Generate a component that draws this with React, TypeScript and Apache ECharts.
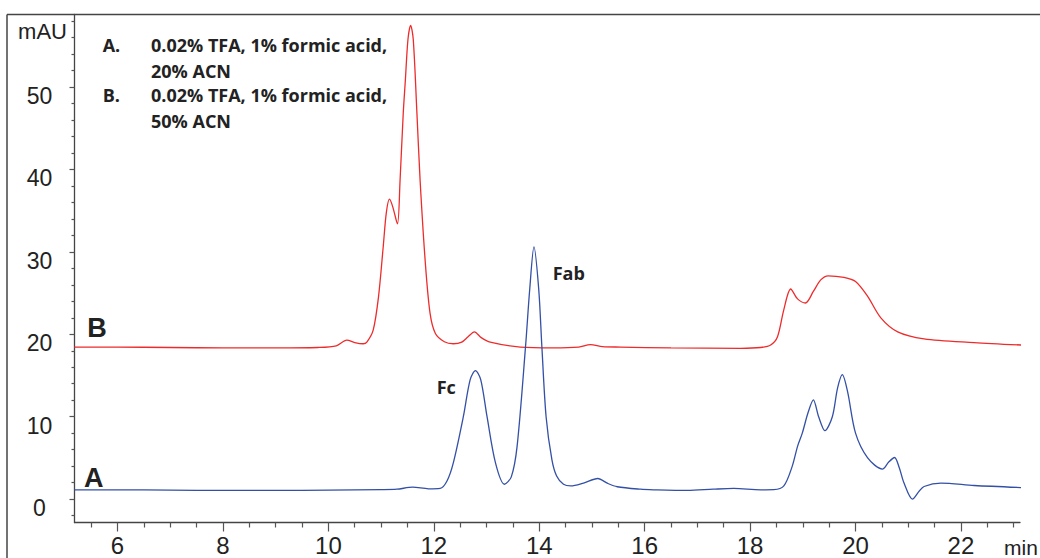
import React, { useEffect, useRef } from "react";
import * as echarts from "echarts";

// Trace A (blue): 0.02% TFA, 1% formic acid, 20% ACN
const timesA = [5.18, 6.0, 7.0, 8.0, 9.0, 10.0, 11.0, 11.3, 11.6, 11.9, 12.12, 12.25, 12.37, 12.56, 12.69, 12.79, 12.89, 13.01, 13.17, 13.34, 13.47, 13.58, 13.74, 13.82, 13.9, 13.99, 14.05, 14.13, 14.24, 14.33, 14.46, 14.6, 14.84, 15.11, 15.3, 15.48, 15.92, 16.17, 16.81, 17.3, 17.69, 18.2, 18.45, 18.64, 18.8, 18.9, 18.99, 19.1, 19.2, 19.3, 19.42, 19.56, 19.66, 19.75, 19.85, 20.0, 20.23, 20.51, 20.63, 20.74, 20.83, 20.92, 21.08, 21.2, 21.3, 21.62, 22.25, 23.14];
const valuesA = [1.13, 1.13, 1.1, 1.05, 1.05, 1.1, 1.15, 1.2, 1.45, 1.25, 1.3, 2.2, 4.4, 10.0, 14.5, 15.6, 14.5, 10.0, 4.4, 1.8, 2.7, 6.4, 18.5, 25.5, 30.6, 25.5, 18.5, 10.0, 4.8, 2.8, 1.8, 1.6, 1.95, 2.5, 1.9, 1.5, 1.2, 1.13, 1.05, 1.2, 1.29, 1.13, 1.15, 1.6, 4.0, 6.4, 8.0, 10.5, 12.05, 10.0, 8.3, 10.0, 13.5, 15.1, 13.0, 8.0, 5.0, 3.64, 4.5, 5.05, 3.8, 1.94, 0.0, 0.9, 1.53, 1.94, 1.65, 1.4];

// Trace B (red): 0.02% TFA, 1% formic acid, 50% ACN
const timesB = [5.18, 6.0, 7.0, 8.0, 9.0, 9.8, 10.15, 10.35, 10.5, 10.66, 10.73, 10.85, 10.95, 11.04, 11.1, 11.16, 11.22, 11.31, 11.36, 11.42, 11.46, 11.51, 11.56, 11.61, 11.68, 11.74, 11.84, 11.93, 12.03, 12.2, 12.37, 12.53, 12.65, 12.77, 12.9, 13.07, 13.64, 14.27, 14.75, 14.97, 15.2, 15.54, 16.5, 17.82, 18.2, 18.39, 18.52, 18.64, 18.77, 18.9, 19.05, 19.2, 19.34, 19.48, 19.78, 20.0, 20.23, 20.48, 20.8, 21.3, 22.25, 23.14];
const valuesB = [18.45, 18.45, 18.4, 18.35, 18.35, 18.4, 18.6, 19.3, 19.0, 18.85, 19.05, 20.5, 24.5, 30.6, 34.8, 36.4, 35.5, 33.4, 38.7, 46.8, 50.8, 55.8, 57.5, 55.8, 46.8, 38.7, 28.6, 22.5, 20.1, 19.1, 18.85, 19.05, 19.7, 20.3, 19.6, 19.05, 18.45, 18.35, 18.45, 18.75, 18.5, 18.45, 18.35, 18.3, 18.4, 18.7, 19.7, 23.0, 25.5, 24.3, 23.8, 25.2, 26.6, 27.1, 26.9, 26.4, 24.6, 22.0, 20.3, 19.45, 19.0, 18.7];

// Axis ticks
const xMajorTicks = [6, 8, 10, 12, 14, 16, 18, 20, 22];
const xMinorTicks = [5.5, 6.5, 7, 7.5, 8.5, 9, 9.5, 10.5, 11, 11.5, 12.5, 13, 13.5, 14.5, 15, 15.5, 16.5, 17, 17.5, 18.5, 19, 19.5, 20.5, 21, 21.5, 22.5, 23];
const yMajorTicks = [0, 10, 20, 30, 40, 50];
const yMinorTicks = [-2, 2, 4, 6, 8, 12, 14, 16, 18, 22, 24, 26, 28, 32, 34, 36, 38, 42, 44, 46, 48, 52, 54, 56, 58];

const X_MIN = 5.184;
const X_MAX = 23.12;
const Y_MIN = -2.84;
const Y_MAX = 58.81;

const AXIS_COLOR = "#444";
const LABEL_FONT = "'Liberation Sans', Arial, sans-serif";
const NOTE_FONT = "'Open Sans', Lato, sans-serif";

function pairs(t: number[], v: number[]) {
  return t.map((x, i) => [x, v[i]]);
}

export default function App() {
  const ref = useRef<HTMLDivElement>(null);
  useEffect(() => {
    if (!ref.current) return;
    const chart = echarts.init(ref.current, undefined, { renderer: "svg" });
    const noteStyle = (text: string) => ({
      text,
      fontFamily: NOTE_FONT,
      fontWeight: "bold",
      fontSize: 18,
      fill: "#222",
      textVerticalAlign: "middle",
    });
    chart.setOption({
      animation: false,
      backgroundColor: "#fff",
      grid: { left: 74.5, right: 20, top: 14.5, bottom: 35.5, outerBoundsMode: "none" },
      xAxis: [
        {
          type: "value",
          min: X_MIN,
          max: X_MAX,
          position: "bottom",
          axisLine: { show: true, onZero: false, lineStyle: { color: AXIS_COLOR, width: 1.3 } },
          axisTick: { show: true, customValues: xMajorTicks, length: 9, lineStyle: { color: "#555", width: 1.2 } },
          axisLabel: { customValues: xMajorTicks, fontSize: 24, fontFamily: LABEL_FONT, color: "#222", margin: 11 },
          splitLine: { show: false },
        },
        {
          type: "value",
          min: X_MIN,
          max: X_MAX,
          position: "bottom",
          axisLine: { show: false, onZero: false },
          axisTick: { show: true, customValues: xMinorTicks, length: 5, lineStyle: { color: "#555", width: 1.2 } },
          axisLabel: { show: false },
          splitLine: { show: false },
        },
      ],
      yAxis: [
        {
          type: "value",
          min: Y_MIN,
          max: Y_MAX,
          position: "left",
          axisLine: { show: true, onZero: false, lineStyle: { color: AXIS_COLOR, width: 1.3 } },
          axisTick: { show: true, customValues: yMajorTicks, length: 5, lineStyle: { color: "#555", width: 1.2 } },
          axisLabel: {
            customValues: yMajorTicks,
            fontSize: 23,
            fontFamily: LABEL_FONT,
            color: "#222",
            align: "center",
            verticalAlign: "top",
            lineHeight: 18,
            margin: 35,
          },
          splitLine: { show: false },
        },
        {
          type: "value",
          min: Y_MIN,
          max: Y_MAX,
          position: "left",
          axisLine: { show: false, onZero: false },
          axisTick: { show: true, customValues: yMinorTicks, length: 3, lineStyle: { color: "#555", width: 1.2 } },
          axisLabel: { show: false },
          splitLine: { show: false },
        },
      ],
      series: [
        {
          name: "B",
          type: "line",
          xAxisIndex: 0,
          yAxisIndex: 0,
          data: pairs(timesB, valuesB),
          showSymbol: false,
          smooth: 0.3,
          lineStyle: { color: "#ee2b2b", width: 1.3 },
        },
        {
          name: "A",
          type: "line",
          xAxisIndex: 0,
          yAxisIndex: 0,
          data: pairs(timesA, valuesA),
          showSymbol: false,
          smooth: 0.3,
          lineStyle: { color: "#3350a6", width: 1.3 },
        },
      ],
      graphic: [
        { type: "line", shape: { x1: 7, y1: 14.5, x2: 1040, y2: 14.5 }, style: { stroke: "#444", lineWidth: 1.5 } },
        { type: "line", shape: { x1: 7, y1: 14.5, x2: 7, y2: 558 }, style: { stroke: "#444", lineWidth: 1.5 } },
        {
          type: "text",
          x: 42.5,
          y: 31.5,
          style: { text: "mAU", fontFamily: LABEL_FONT, fontSize: 22, fill: "#222", textAlign: "center", textVerticalAlign: "middle" },
        },
        {
          type: "text",
          x: 1004,
          y: 547,
          style: { text: "min", fontFamily: LABEL_FONT, fontSize: 21, fill: "#222", textVerticalAlign: "middle" },
        },
        { type: "text", x: 102.7, y: 45, style: noteStyle("A.") },
        { type: "text", x: 151, y: 45, style: noteStyle("0.02% TFA, 1% formic acid,") },
        { type: "text", x: 151, y: 70.8, style: noteStyle("20% ACN") },
        { type: "text", x: 102.7, y: 95.3, style: noteStyle("B.") },
        { type: "text", x: 151, y: 95.3, style: noteStyle("0.02% TFA, 1% formic acid,") },
        { type: "text", x: 151, y: 121.3, style: noteStyle("50% ACN") },
        { type: "text", x: 552.7, y: 273, style: noteStyle("Fab") },
        { type: "text", x: 436.7, y: 387, style: noteStyle("Fc") },
        {
          type: "text",
          x: 84,
          y: 477.8,
          style: { text: "A", fontFamily: LABEL_FONT, fontWeight: "bold", fontSize: 27, fill: "#222", textVerticalAlign: "middle" },
        },
        {
          type: "text",
          x: 87.3,
          y: 327.8,
          style: { text: "B", fontFamily: LABEL_FONT, fontWeight: "bold", fontSize: 27, fill: "#222", textVerticalAlign: "middle" },
        },
      ],
    });
    return () => chart.dispose();
  }, []);
  return <div ref={ref} style={{ position: "fixed", left: 0, top: 0, width: 1040, height: 558 }} />;
}
